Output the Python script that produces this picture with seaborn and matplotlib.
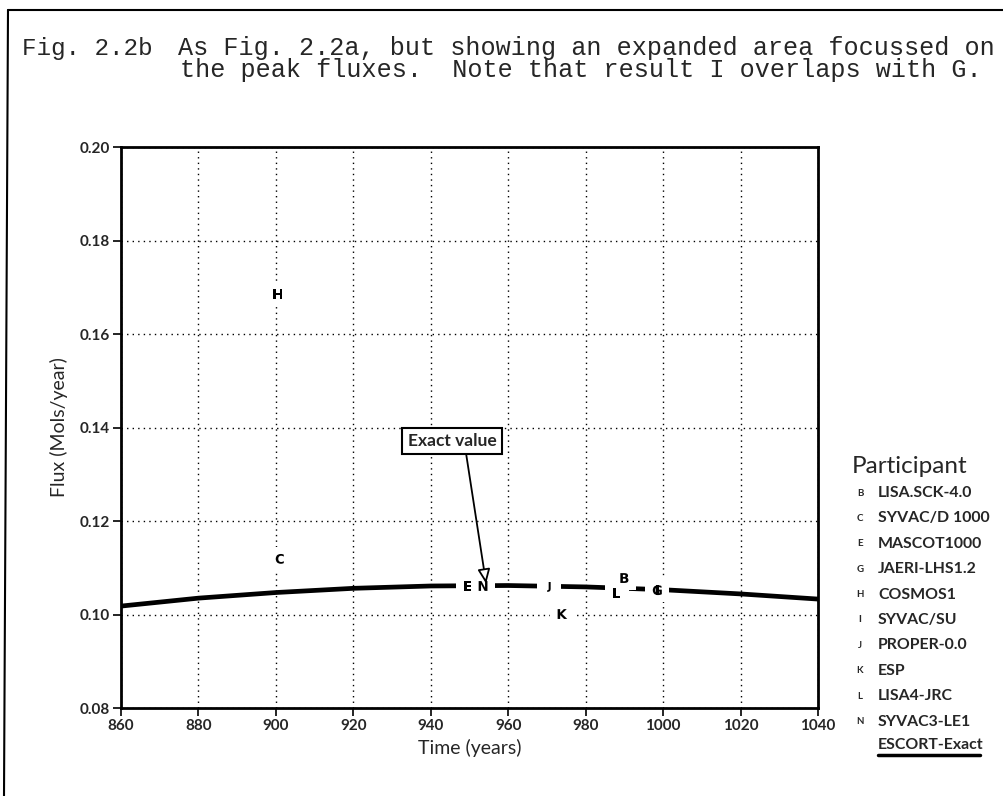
import numpy as np
import pandas as pd
import matplotlib
matplotlib.use("Agg")
import matplotlib.pyplot as plt
from matplotlib.lines import Line2D
import seaborn as sns

# ---------------- data ----------------
exact_time = [860, 880, 900, 920, 940, 960, 980, 1000, 1020, 1040]
exact_flux = [0.1018, 0.1035, 0.1047, 0.1056, 0.1061, 0.1062, 0.1059, 0.1053, 0.1044, 0.1033]

letters = ["B", "C", "E", "G", "H", "I", "J", "K", "L", "N"]
participants = ["LISA.SCK-4.0", "SYVAC/D 1000", "MASCOT1000", "JAERI-LHS1.2", "COSMOS1",
                "SYVAC/SU", "PROPER-0.0", "ESP", "LISA4-JRC", "SYVAC3-LE1"]
peak_time = [990, 901, 949.5, 998.5, 900.5, 998.5, 970.5, 974, 988, 953.5]
peak_flux = [0.1078, 0.1119, 0.1061, 0.1052, 0.1686, 0.1052, 0.1059, 0.1001, 0.1046, 0.1061]

x_ticks = [860, 880, 900, 920, 940, 960, 980, 1000, 1020, 1040]
y_ticks = [0.08, 0.10, 0.12, 0.14, 0.16, 0.18, 0.20]

title_label = "Fig. 2.2b"
title_line1 = "As Fig. 2.2a, but showing an expanded area focussed on"
title_line2 = "the peak fluxes.  Note that result I overlaps with G."

# ---------------- style ----------------
sns.set_theme(style="white")
plt.rcParams["font.family"] = ["Lato", "DejaVu Sans"]
plt.rcParams["mathtext.default"] = "bf"

W, H = 1004, 796
fig = plt.figure(figsize=(W / 100, H / 100), dpi=100)
fig.patch.set_facecolor("white")

def fx(px):
    return px / W

def fy(py):
    return 1 - py / H

ax = fig.add_axes([fx(121), fy(708), fx(818) - fx(121), fy(147) - fy(708)])
ax.set_facecolor("white")

# exact curve
exact_df = pd.DataFrame({"time": exact_time, "flux": exact_flux})
sns.lineplot(data=exact_df, x="time", y="flux", ax=ax, color="black", lw=3.4,
             zorder=3, legend=False)

# participant peaks (white backing to break the line, then letter markers)
peaks_df = pd.DataFrame({"letter": letters, "time": peak_time, "flux": peak_flux}).iloc[::-1]
sns.scatterplot(data=peaks_df, x="time", y="flux", ax=ax, marker="s", s=300,
                color="white", edgecolor="none", zorder=4, legend=False)
sns.scatterplot(data=peaks_df, x="time", y="flux", ax=ax, style="letter",
                markers={L: f"${L}$" for L in letters}, s=50, color="black",
                edgecolor="none", linewidth=0, zorder=5, legend=False)

ax.set_xlim(860, 1040)
ax.set_ylim(0.08, 0.20)
ax.set_xticks(x_ticks)
ax.set_yticks(y_ticks)
ax.set_xticklabels([str(t) for t in x_ticks])
ax.set_yticklabels([f"{v:.2f}" for v in y_ticks])
ax.grid(True, color="black", linestyle=(0, (1, 3)), linewidth=1.0)
ax.set_axisbelow(True)
for sp in ax.spines.values():
    sp.set_visible(True)
    sp.set_color("black")
    sp.set_linewidth(2.0)
ax.tick_params(axis="both", direction="out", length=6, width=1.2, color="black",
               labelsize=11, pad=2, bottom=True, left=True)
for lab in ax.get_xticklabels() + ax.get_yticklabels():
    lab.set_fontweight("bold")
ax.set_xlabel("Time (years)", fontsize=14, labelpad=4)
ax.set_ylabel("Flux (Mols/year)", fontsize=14, labelpad=8)

# annotation
ax.annotate("Exact value", xy=(954.3, 0.1066), xytext=(945.5, 0.1371),
            ha="center", va="center", fontsize=12.5, fontweight="bold", zorder=6,
            bbox=dict(boxstyle="square,pad=0.3", fc="white", ec="black", lw=1.5),
            arrowprops=dict(arrowstyle="-|>,head_length=0.7,head_width=0.3",
                            fc="white", ec="black", lw=1.3, relpos=(0.65, 0.0),
                            shrinkA=0, shrinkB=0))

# legend
fig.text(fx(852), fy(466), "Participant", fontsize=17.5, va="center", ha="left")
y0, dy = 493, 25.4
for i, (L, name) in enumerate(zip(letters, participants)):
    yy = y0 + i * dy
    fig.text(fx(860), fy(yy), L, fontsize=7, fontweight="bold", va="center", ha="center")
    fig.text(fx(878), fy(yy), name, fontsize=11.4, fontweight="bold", va="center", ha="left")
yy = y0 + len(letters) * dy
fig.text(fx(878), fy(yy - 2), "ESCORT-Exact", fontsize=11.4, fontweight="bold", va="center", ha="left")
fig.add_artist(Line2D([fx(878), fx(980)], [fy(yy + 8), fy(yy + 8)], color="black", lw=2.5))

# title (typewritten caption)
fig.text(fx(22), fy(48), title_label, fontsize=17.5, family="Liberation Mono",
         va="center", ha="left")
fig.text(fx(178), fy(48), title_line1, fontsize=18.1, family="Liberation Mono",
         va="center", ha="left")
fig.text(fx(180), fy(70), title_line2, fontsize=18.1, family="Liberation Mono",
         va="center", ha="left")

# page frame
fig.add_artist(Line2D([fx(8), fx(1004)], [fy(10), fy(10)], color="black", lw=1.5))
fig.add_artist(Line2D([fx(8), fx(4)], [fy(10), fy(796)], color="black", lw=1.5))

fig.savefig("out.png", dpi=100, facecolor="white")
